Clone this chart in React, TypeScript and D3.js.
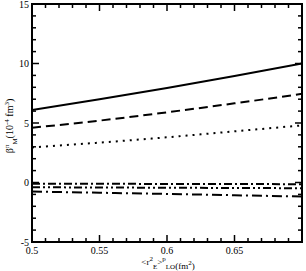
import React from "react";
import * as d3 from "d3";

const xs = [0.5, 0.55, 0.6, 0.65, 0.7];
const solid = [6.1, 7.0, 7.95, 8.95, 10.0];
const dashed = [4.6, 5.2, 5.9, 6.65, 7.45];
const dotted = [2.95, 3.35, 3.8, 4.3, 4.8];
const dashDotA = [-0.1, -0.11, -0.12, -0.13, -0.14];
const dashDotB = [-0.4, -0.42, -0.44, -0.46, -0.48];
const dashDotC = [-0.76, -0.86, -0.96, -1.07, -1.18];

const xTickLabels = ["0.5", "0.55", "0.6", "0.65"];
const yTickLabels = ["-5", "0", "5", "10", "15"];

const W = 306, H = 271;
const L = 32, R = 302, T = 4, B = 242;

export default function App() {
  const x = d3.scaleLinear().domain([0.5, 0.7]).range([L, R]);
  const y = d3.scaleLinear().domain([-5, 15]).range([B, T]);
  const line = (vals: number[]) =>
    d3.line<number>().x((_, i) => x(xs[i])).y((v) => y(v)).curve(d3.curveMonotoneX)(vals) || "";

  const xMinor = d3.range(0, 21).map((i) => 0.5 + i * 0.01);
  const yMinor = d3.range(0, 21).map((i) => -5 + i);

  const series = [
    { v: solid, dash: "none" },
    { v: dashed, dash: "9,5" },
    { v: dotted, dash: "2,5" },
    { v: dashDotA, dash: "8,3,2,3" },
    { v: dashDotB, dash: "8,3,2,3,2,3" },
    { v: dashDotC, dash: "10,4,2,4" },
  ];

  return (
    <svg width={W} height={H} style={{ position: "absolute", left: 0, top: 0 }} fontFamily="'Liberation Serif', serif">
      <rect width={W} height={H} fill="#fff" />
      <defs>
        <clipPath id="c">
          <rect x={L} y={T} width={R - L} height={B - T} />
        </clipPath>
      </defs>
      <g clipPath="url(#c)">
        {series.map((s, i) => (
          <path key={i} d={line(s.v)} fill="none" stroke="#000" strokeWidth={2} strokeDasharray={s.dash} />
        ))}
      </g>
      {xMinor.map((v, i) => {
        const major = i % 5 === 0;
        const len = major ? 7 : 4;
        return (
          <g key={"x" + i}>
            <line x1={x(v)} x2={x(v)} y1={B} y2={B - len} stroke="#000" strokeWidth={1.5} />
            <line x1={x(v)} x2={x(v)} y1={T} y2={T + len} stroke="#000" strokeWidth={1.5} />
          </g>
        );
      })}
      {yMinor.map((v, i) => {
        const major = i % 5 === 0;
        const len = major ? 7 : 4;
        return (
          <g key={"y" + i}>
            <line x1={L} x2={L + len} y1={y(v)} y2={y(v)} stroke="#000" strokeWidth={1.5} />
            <line x1={R} x2={R - len} y1={y(v)} y2={y(v)} stroke="#000" strokeWidth={1.5} />
          </g>
        );
      })}
      <rect x={L} y={T} width={R - L} height={B - T} fill="none" stroke="#000" strokeWidth={2} />
      {xTickLabels.map((t) => (
        <text key={t} x={x(+t)} y={B + 12} fontSize={10} textAnchor="middle">{t}</text>
      ))}
      {yTickLabels.map((t) => (
        <text key={t} x={L - 3} y={y(+t) + 3.5} fontSize={10} textAnchor="end">{t}</text>
      ))}
      <text x={168} y={265} fontSize={9} textAnchor="middle">
        {"<r"}
        <tspan dy={-4} fontSize={7}>2</tspan>
        <tspan dy={8} fontSize={7}>E</tspan>
        <tspan dy={-4}>{">"}</tspan>
        <tspan dy={-4} fontSize={7}>p</tspan>
        <tspan dy={8} fontSize={7}>LO</tspan>
        <tspan>(fm</tspan>
        <tspan dy={-4} fontSize={7}>2</tspan>
        <tspan dy={4}>)</tspan>
      </text>
      <text transform={`translate(13,126) rotate(-90)`} fontSize={10} textAnchor="middle">
        {"β"}
        <tspan dy={-4} fontSize={7}>π</tspan>
        <tspan dy={8} fontSize={7}>M</tspan>
        <tspan dy={-4}>(10</tspan>
        <tspan dy={-4} fontSize={7}>-4</tspan>
        <tspan dy={4}> fm</tspan>
        <tspan dy={-4} fontSize={7}>3</tspan>
        <tspan dy={4}>)</tspan>
      </text>
    </svg>
  );
}
